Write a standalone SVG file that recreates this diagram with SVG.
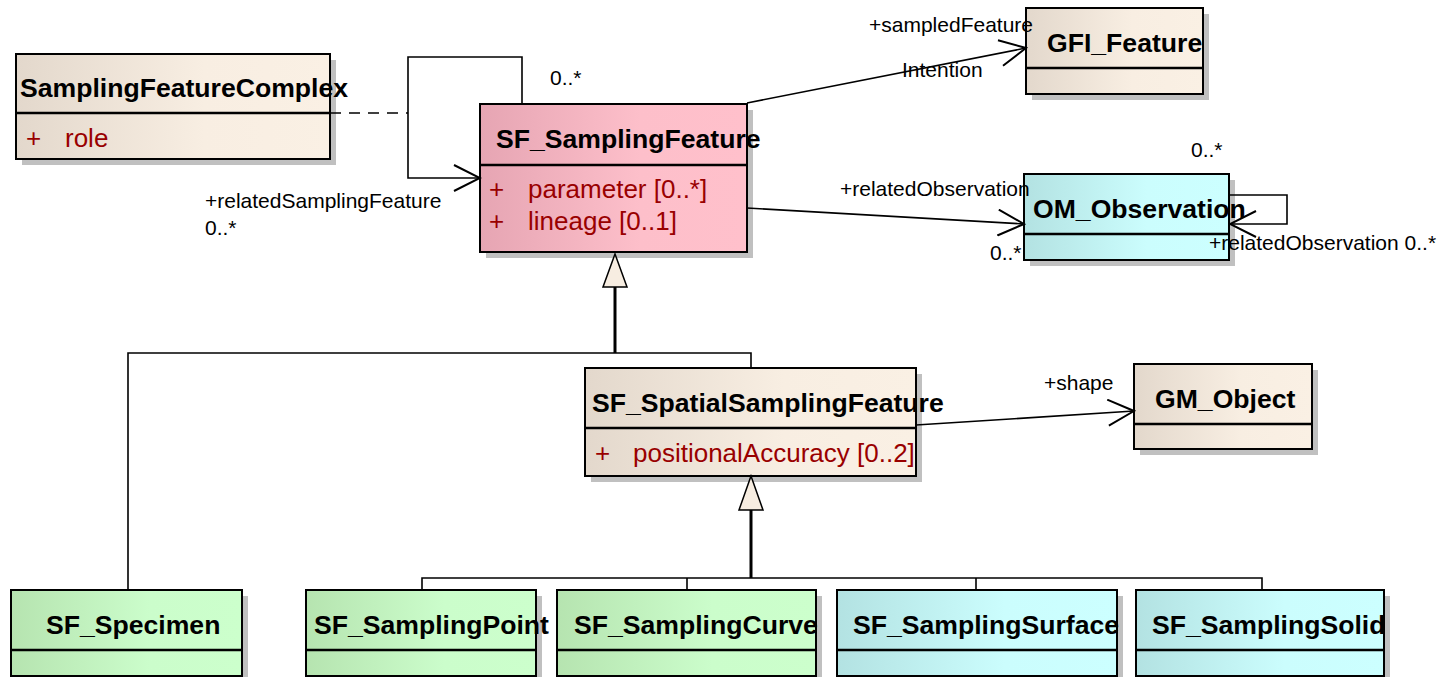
<svg xmlns="http://www.w3.org/2000/svg" width="1446" height="677" viewBox="0 0 1446 677">
<style>
.box{stroke:#000;stroke-width:2}
.sh{fill:#c0c0c0}
.div{stroke:#000;stroke-width:2.5}
.title{font-family:"Liberation Sans",Arial,sans-serif;font-weight:bold;font-size:26.6px;fill:#000}
.attr{font-family:"Liberation Sans",Arial,sans-serif;font-size:26px;fill:#990000}
.lbl{font-family:"Liberation Sans",Arial,sans-serif;font-size:21px;fill:#000}
.ln{fill:none;stroke:#000;stroke-width:1.6}
.thick{fill:none;stroke:#000;stroke-width:3}
.gen{fill:#f7ede1;stroke:#000;stroke-width:1.5}
</style>
<defs>
<linearGradient id="gLinen" x1="0" y1="0" x2="1" y2="0"><stop offset="0" stop-color="#e3d8cc"/><stop offset="0.6" stop-color="#f8eee2"/><stop offset="1" stop-color="#faf0e4"/></linearGradient>
<linearGradient id="gPink" x1="0" y1="0" x2="1" y2="0"><stop offset="0" stop-color="#e6a5b3"/><stop offset="0.6" stop-color="#fdbfca"/><stop offset="1" stop-color="#ffc0cb"/></linearGradient>
<linearGradient id="gGreen" x1="0" y1="0" x2="1" y2="0"><stop offset="0" stop-color="#b6e4b0"/><stop offset="0.6" stop-color="#cbfdcb"/><stop offset="1" stop-color="#ccffcc"/></linearGradient>
<linearGradient id="gCyan" x1="0" y1="0" x2="1" y2="0"><stop offset="0" stop-color="#b3e2e2"/><stop offset="0.6" stop-color="#cbfdfd"/><stop offset="1" stop-color="#ccffff"/></linearGradient>
<marker id="open" viewBox="0 0 30 28" refX="28" refY="14" markerWidth="30" markerHeight="28" markerUnits="userSpaceOnUse" orient="auto"><path d="M2,1 L28,14 L2,27" fill="none" stroke="#000" stroke-width="2"/></marker>
</defs>

<g id="SamplingFeatureComplex">
<rect class="sh" x="22" y="60" width="314" height="105"/>
<rect class="box" x="16" y="54" width="314" height="105" fill="url(#gLinen)"/>
<line class="div" x1="16" y1="113" x2="330" y2="113"/>
<text class="title" x="20" y="97">SamplingFeatureComplex</text>
<text class="attr" x="26" y="147">+</text><text class="attr" x="65" y="147">role</text>
</g>

<g id="SF_SamplingFeature">
<rect class="sh" x="486" y="110" width="267" height="148"/>
<rect class="box" x="480" y="104" width="267" height="148" fill="url(#gPink)"/>
<line class="div" x1="480" y1="165" x2="747" y2="165"/>
<text class="title" x="496" y="148">SF_SamplingFeature</text>
<text class="attr" x="489" y="198">+</text><text class="attr" x="528" y="198">parameter [0..*]</text>
<text class="attr" x="489" y="230">+</text><text class="attr" x="528" y="230">lineage [0..1]</text>
</g>

<g id="GFI_Feature">
<rect class="sh" x="1032" y="14" width="177" height="86"/>
<rect class="box" x="1026" y="8" width="177" height="86" fill="url(#gLinen)"/>
<line class="div" x1="1026" y1="68" x2="1203" y2="68"/>
<text class="title" x="1047" y="52">GFI_Feature</text>
</g>

<g id="OM_Observation">
<rect class="sh" x="1030" y="180" width="205" height="86"/>
<rect class="box" x="1024" y="174" width="205" height="86" fill="url(#gCyan)"/>
<line class="div" x1="1024" y1="234" x2="1229" y2="234"/>
<text class="title" x="1033" y="218">OM_Observation</text>
</g>

<g id="SF_SpatialSamplingFeature">
<rect class="sh" x="591" y="374" width="331" height="108"/>
<rect class="box" x="585" y="368" width="331" height="108" fill="url(#gLinen)"/>
<line class="div" x1="585" y1="428" x2="916" y2="428"/>
<text class="title" x="592" y="412">SF_SpatialSamplingFeature</text>
<text class="attr" x="595" y="462">+</text><text class="attr" x="633" y="462">positionalAccuracy [0..2]</text>
</g>

<g id="GM_Object">
<rect class="sh" x="1140" y="370" width="178" height="85"/>
<rect class="box" x="1134" y="364" width="178" height="85" fill="url(#gLinen)"/>
<line class="div" x1="1134" y1="424" x2="1312" y2="424"/>
<text class="title" x="1155" y="408">GM_Object</text>
</g>

<g id="SF_Specimen">
<rect class="sh" x="17" y="596" width="231" height="86"/>
<rect class="box" x="11" y="590" width="231" height="86" fill="url(#gGreen)"/>
<line class="div" x1="11" y1="650" x2="242" y2="650"/>
<text class="title" x="46" y="634">SF_Specimen</text>
</g>

<g id="SF_SamplingPoint">
<rect class="sh" x="312" y="596" width="230" height="86"/>
<rect class="box" x="306" y="590" width="230" height="86" fill="url(#gGreen)"/>
<line class="div" x1="306" y1="650" x2="536" y2="650"/>
<text class="title" x="314" y="634">SF_SamplingPoint</text>
</g>

<g id="SF_SamplingCurve">
<rect class="sh" x="563" y="596" width="259" height="86"/>
<rect class="box" x="557" y="590" width="259" height="86" fill="url(#gGreen)"/>
<line class="div" x1="557" y1="650" x2="816" y2="650"/>
<text class="title" x="574" y="634">SF_SamplingCurve</text>
</g>

<g id="SF_SamplingSurface">
<rect class="sh" x="843" y="596" width="280" height="86"/>
<rect class="box" x="837" y="590" width="280" height="86" fill="url(#gCyan)"/>
<line class="div" x1="837" y1="650" x2="1117" y2="650"/>
<text class="title" x="853" y="634">SF_SamplingSurface</text>
</g>

<g id="SF_SamplingSolid">
<rect class="sh" x="1142" y="596" width="248" height="86"/>
<rect class="box" x="1136" y="590" width="248" height="86" fill="url(#gCyan)"/>
<line class="div" x1="1136" y1="650" x2="1384" y2="650"/>
<text class="title" x="1152" y="634">SF_SamplingSolid</text>
</g>

<g id="connectors">
<line class="ln" x1="330" y1="113" x2="408" y2="113" stroke-dasharray="11,8"/>
<path class="ln" d="M522,104 V57 H408 V178 H480" marker-end="url(#open)"/>
<text class="lbl" x="550" y="85">0..*</text>
<text class="lbl" x="205" y="208">+relatedSamplingFeature</text>
<text class="lbl" x="205" y="235">0..*</text>

<line class="ln" x1="747" y1="103" x2="1026" y2="48" marker-end="url(#open)"/>
<text class="lbl" x="869" y="32">+sampledFeature</text>
<text class="lbl" x="902" y="77">Intention</text>

<line class="ln" x1="747" y1="208" x2="1024" y2="224" marker-end="url(#open)"/>
<text class="lbl" x="840" y="196">+relatedObservation</text>
<text class="lbl" x="990" y="260">0..*</text>

<path class="ln" d="M1229,195 H1287 V224 H1230" marker-end="url(#open)"/>
<text class="lbl" x="1191" y="157">0..*</text>
<text class="lbl" x="1209" y="250">+relatedObservation 0..*</text>

<line class="ln" x1="916" y1="425" x2="1134" y2="411" marker-end="url(#open)"/>
<text class="lbl" x="1044" y="390">+shape</text>

<path class="ln" d="M128,590 V353 H751 V368"/>
<line class="thick" x1="615" y1="353" x2="615" y2="287"/>
<polygon class="gen" points="615,254 603,287 627,287"/>

<path class="ln" d="M422,590 V578 H1262 V590 M687,578 V590 M976,578 V590"/>
<line class="thick" x1="751" y1="578" x2="751" y2="510"/>
<polygon class="gen" points="751,476 739,510 763,510"/>
</g>
</svg>
